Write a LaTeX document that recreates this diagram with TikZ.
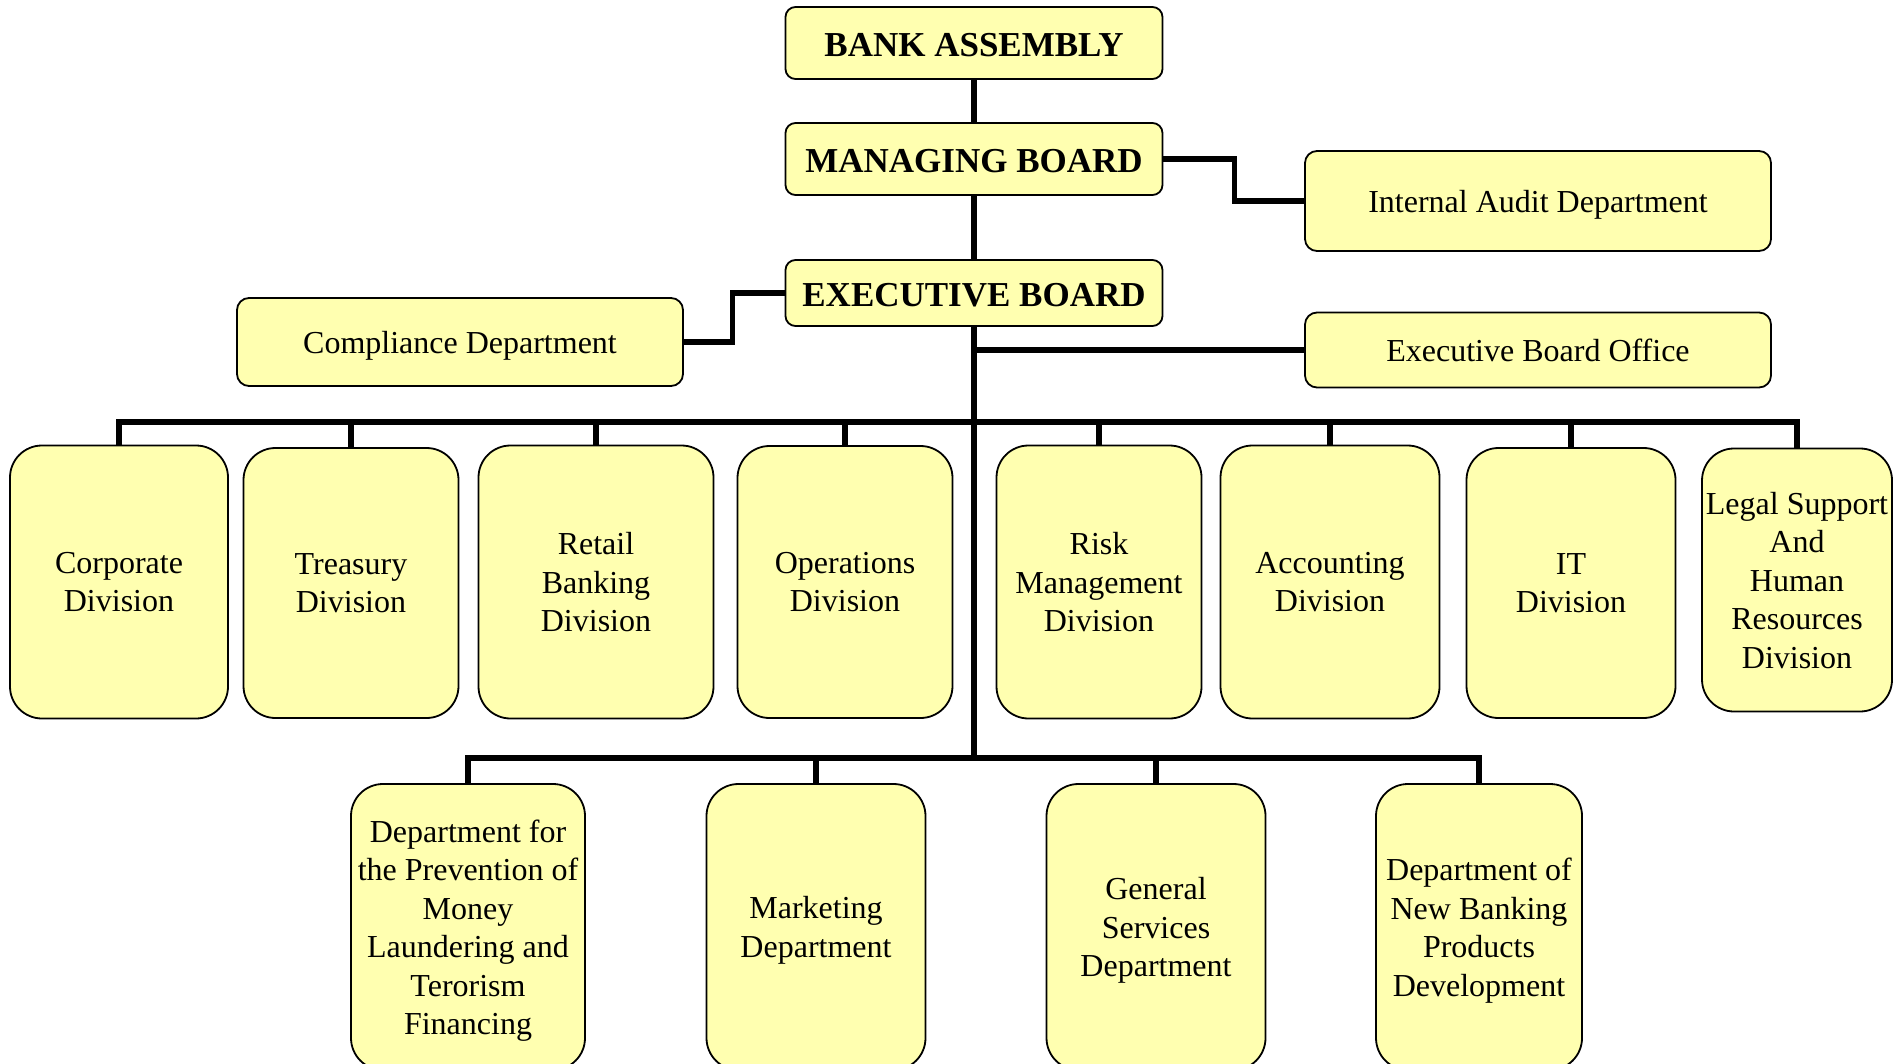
\documentclass[tikz,border=0pt]{standalone}
\usepackage{fontspec}
\setmainfont{Liberation Serif}
\definecolor{boxfill}{RGB}{255,255,176}
\begin{document}
\begin{tikzpicture}[x=1pt,y=-1pt,
  base/.style={draw=black, line width=1.8pt, fill=boxfill, inner sep=0pt, align=center, text depth=0pt},
  topbox/.style={base, rounded corners=10pt, text height=28pt, font=\fontsize{35}{40}\selectfont\bfseries},
  sidebox/.style={base, rounded corners=12pt, font=\fontsize{32}{38}\selectfont},
  divbox/.style={base, rounded corners=32pt, font=\fontsize{32}{38.5}\selectfont},
  conn/.style={line width=5.5pt, draw=black}]
\useasboundingbox (0,0) rectangle (1898,1064);
\clip (0,0) rectangle (1898,1064);
% top level
\node[topbox, minimum width=377pt, minimum height=72pt] (BA) at (974,43) {BANK ASSEMBLY};
\node[topbox, minimum width=377pt, minimum height=72pt] (MB) at (974,159) {MANAGING BOARD};
\node[topbox, minimum width=377pt, minimum height=66pt] (EB) at (974,293) {EXECUTIVE BOARD};
\node[sidebox, minimum width=466pt, minimum height=100pt] (IA) at (1538,201) {Internal Audit Department};
\node[sidebox, minimum width=446pt, minimum height=88pt] (CD) at (460,342) {Compliance Department};
\node[sidebox, minimum width=466pt, minimum height=75pt] (EBO) at (1538,350) {Executive Board Office};
% divisions
\node[divbox, minimum width=218pt, minimum height=273pt] (Corp) at (119,582) {Corporate\\Division};
\node[divbox, minimum width=215pt, minimum height=270pt] (Treas) at (351,583) {Treasury\\Division};
\node[divbox, minimum width=235pt, minimum height=273pt] (Retail) at (596,582) {Retail\\Banking\\Division};
\node[divbox, minimum width=215pt, minimum height=272pt] (Oper) at (845,582) {Operations\\Division};
\node[divbox, minimum width=205pt, minimum height=273pt] (Risk) at (1099,582) {Risk\\Management\\Division};
\node[divbox, minimum width=219pt, minimum height=273pt] (Acc) at (1330,582) {Accounting\\Division};
\node[divbox, minimum width=209pt, minimum height=270pt] (IT) at (1571,583) {IT\\Division};
\node[divbox, minimum width=190pt, minimum height=263pt] (Legal) at (1797,580) {Legal Support\\And\\Human\\Resources\\Division};
% bottom departments
\node[divbox, minimum width=234pt, minimum height=286pt] (PML) at (468,927) {Department for\\the Prevention of\\Money\\Laundering and\\Terorism\\Financing};
\node[divbox, minimum width=219pt, minimum height=286pt] (Mkt) at (816,927) {Marketing\\Department};
\node[divbox, minimum width=219pt, minimum height=286pt] (Gen) at (1156,927) {General\\Services\\Department};
\node[divbox, minimum width=206pt, minimum height=286pt] (NB) at (1479,927) {Department of\\New Banking\\Products\\Development};
% connectors
\coordinate (bus1) at (974,422);
\coordinate (bus2) at (974,758);
\draw[conn] (BA.south) -- (MB.north);
\draw[conn] (MB.south) -- (EB.north);
\draw[conn] (MB.east) -- ++(71,0) |- (IA.west);
\draw[conn] (EB.west) -- ++(-52,0) |- (CD.east);
\draw[conn] (EB.south) -- (bus2);
\draw[conn] (EB.south |- EBO.west) -- (EBO.west);
\draw[conn] (Corp.north) |- (bus1) -| (Legal.north);
\foreach \n in {Treas,Retail,Oper,Risk,Acc,IT}
  \draw[conn] (\n.north) -- (\n.north |- bus1);
\draw[conn] (PML.north) |- (bus2) -| (NB.north);
\foreach \n in {Mkt,Gen}
  \draw[conn] (\n.north) -- (\n.north |- bus2);
\end{tikzpicture}
\end{document}
